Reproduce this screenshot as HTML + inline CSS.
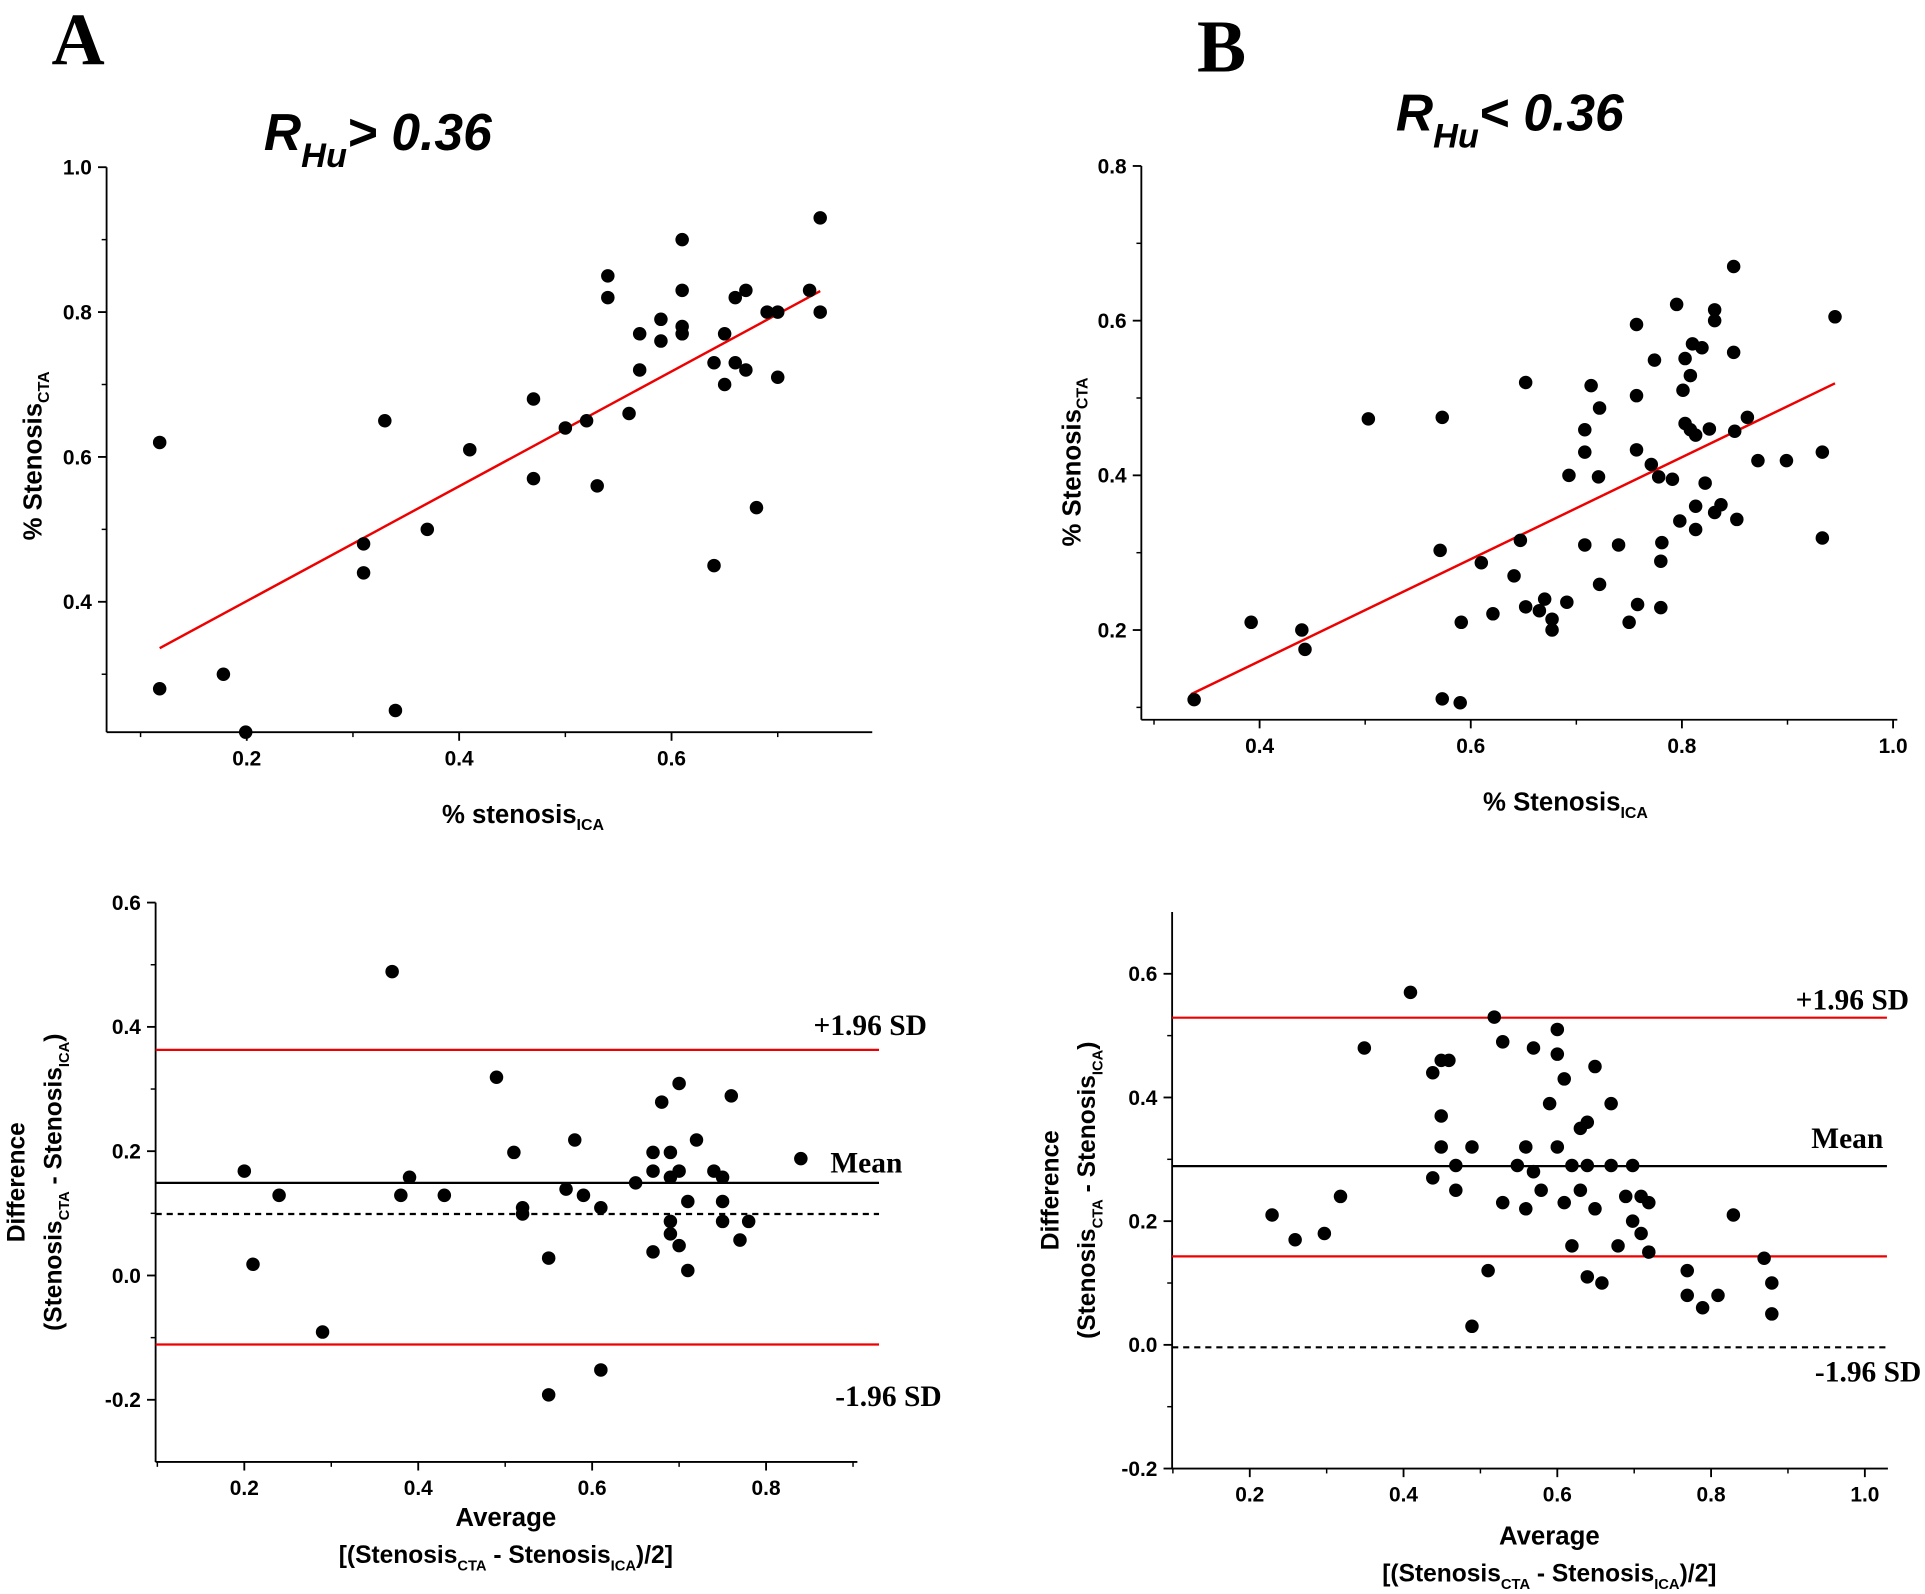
<!DOCTYPE html>
<html><head><meta charset="utf-8"><style>
html,body{margin:0;padding:0;background:#fff;}
svg{display:block;}
text{font-family:"Liberation Sans",sans-serif;font-weight:bold;fill:#000;}
.serif{font-family:"Liberation Serif",serif;}
</style></head><body>
<svg id="fig" width="1925" height="1594" viewBox="0 0 1568 1298" xmlns="http://www.w3.org/2000/svg">
<text class="serif" x="42" y="52" font-size="60">A</text>
<text class="serif" x="975" y="58" font-size="60">B</text>
<text x="215" y="122" font-size="42" font-style="italic">R<tspan font-size="28" dy="14">Hu</tspan><tspan dy="-14">&gt; 0.36</tspan></text>
<text x="1137" y="106" font-size="42" font-style="italic">R<tspan font-size="28" dy="14">Hu</tspan><tspan dy="-14">&lt; 0.36</tspan></text>
<g id="plots"></g>
</svg>
<script>
// Panel A top scatter
const aTopX=[0.118,0.118,0.178,0.199,0.33,0.31,0.31,0.34,0.37,0.41,0.47,0.47,0.50,0.52,0.53,0.54,0.54,0.56,0.57,0.57,0.59,0.59,0.61,0.61,0.61,0.61,0.64,0.64,0.65,0.65,0.66,0.66,0.67,0.67,0.68,0.69,0.70,0.70,0.73,0.74,0.74];
const aTopY=[0.62,0.28,0.30,0.22,0.65,0.48,0.44,0.25,0.50,0.61,0.68,0.57,0.64,0.65,0.56,0.85,0.82,0.66,0.77,0.72,0.79,0.76,0.90,0.83,0.78,0.77,0.73,0.45,0.77,0.70,0.82,0.73,0.83,0.72,0.53,0.80,0.80,0.71,0.83,0.93,0.80];
const aFitX=[0.118,0.74];
const aFitY=[0.336,0.829];
// Panel B top scatter
const bTopX=[0.338,0.392,0.44,0.443,0.503,0.573,0.571,0.573,0.590,0.591,0.61,0.621,0.641,0.647,0.652,0.652,0.665,0.670,0.677,0.677,0.691,0.693,0.708,0.708,0.708,0.714,0.721,0.722,0.722,0.74,0.75,0.757,0.757,0.757,0.758,0.771,0.774,0.778,0.78,0.78,0.781,0.791,0.795,0.798,0.801,0.803,0.803,0.808,0.808,0.81,0.813,0.813,0.813,0.819,0.822,0.826,0.831,0.831,0.831,0.837,0.849,0.849,0.85,0.852,0.862,0.872,0.899,0.933,0.933,0.945];
const bTopY=[0.11,0.21,0.20,0.175,0.473,0.475,0.303,0.111,0.106,0.21,0.287,0.221,0.27,0.316,0.52,0.23,0.225,0.24,0.214,0.2,0.236,0.40,0.31,0.459,0.43,0.516,0.398,0.487,0.259,0.31,0.21,0.595,0.503,0.433,0.233,0.414,0.549,0.398,0.289,0.229,0.313,0.395,0.621,0.341,0.51,0.551,0.467,0.459,0.529,0.57,0.452,0.36,0.33,0.565,0.39,0.46,0.614,0.6,0.352,0.362,0.67,0.559,0.457,0.343,0.475,0.419,0.419,0.319,0.43,0.605];
const bFitX=[0.335,0.945];
const bFitY=[0.117,0.519];
// Panel A Bland-Altman
const aBaX=[0.2,0.21,0.24,0.29,0.37,0.38,0.39,0.43,0.49,0.51,0.52,0.52,0.55,0.55,0.57,0.58,0.59,0.61,0.61,0.65,0.67,0.67,0.67,0.68,0.69,0.69,0.69,0.69,0.70,0.70,0.70,0.71,0.71,0.72,0.74,0.75,0.75,0.75,0.76,0.77,0.78,0.84];
const aBaY=[0.168,0.018,0.129,-0.091,0.489,0.129,0.158,0.129,0.319,0.198,0.109,0.099,0.028,-0.192,0.139,0.218,0.129,0.109,-0.152,0.149,0.198,0.168,0.038,0.279,0.198,0.158,0.087,0.067,0.309,0.168,0.048,0.119,0.008,0.218,0.168,0.158,0.119,0.087,0.289,0.057,0.087,0.188];
const aLimits=[0.363,0.149,0.099,-0.111];
// Panel B Bland-Altman
const bBaX=[0.229,0.259,0.297,0.318,0.349,0.409,0.438,0.438,0.449,0.449,0.449,0.459,0.468,0.468,0.489,0.489,0.51,0.518,0.529,0.529,0.548,0.559,0.559,0.569,0.569,0.579,0.59,0.6,0.6,0.6,0.609,0.609,0.619,0.619,0.63,0.63,0.639,0.639,0.639,0.649,0.649,0.658,0.67,0.67,0.679,0.689,0.698,0.698,0.709,0.709,0.719,0.719,0.769,0.769,0.789,0.809,0.829,0.869,0.879,0.879];
const bBaY=[0.21,0.17,0.18,0.24,0.48,0.57,0.44,0.27,0.46,0.37,0.32,0.46,0.29,0.25,0.32,0.03,0.12,0.53,0.49,0.23,0.29,0.32,0.22,0.48,0.28,0.25,0.39,0.51,0.47,0.32,0.43,0.23,0.16,0.29,0.25,0.35,0.36,0.11,0.29,0.45,0.22,0.10,0.39,0.29,0.16,0.24,0.29,0.20,0.24,0.18,0.23,0.15,0.12,0.08,0.06,0.08,0.21,0.14,0.10,0.05];
const bLimits=[0.529,0.289,0.143,-0.004];

const NS='http://www.w3.org/2000/svg';
const root=document.getElementById('plots');
function mk(tag,attrs,parent){const e=document.createElementNS(NS,tag);for(const k in attrs)e.setAttribute(k,attrs[k]);(parent||root).appendChild(e);return e;}
function lin(d0,d1,p0,p1){return v=>p0+(v-d0)*(p1-p0)/(d1-d0);}

function axes(g,sx,sy,x0,x1,y0,y1,xt,yt,xd,yd,minorX,minorY){
  const l1=mk('line',{x1:sx(x0),y1:sy(y0),x2:sx(x1),y2:sy(y0),stroke:'#000','stroke-width':1.5},g);
  
  
  const l2=mk('line',{x1:sx(x0),y1:sy(y0),x2:sx(x0),y2:sy(y1),stroke:'#000','stroke-width':1.5},g);
  
  
  minorX.forEach(v=>{mk('line',{x1:sx(v),x2:sx(v),y1:sy(y0),y2:sy(y0)+4,stroke:'#000','stroke-width':1.2},g);});
  minorY.forEach(v=>{mk('line',{x1:sx(x0),x2:sx(x0)-4,y1:sy(v),y2:sy(v),stroke:'#000','stroke-width':1.2},g);});
  xt.forEach(v=>{mk('line',{x1:sx(v),x2:sx(v),y1:sy(y0),y2:sy(y0)+7,stroke:'#000','stroke-width':1.5},g);
    const t=mk('text',{x:sx(v),y:sy(y0)+27,'text-anchor':'middle','font-size':17},g);t.textContent=v.toFixed(xd);
    
    });
  yt.forEach(v=>{mk('line',{x1:sx(x0),x2:sx(x0)-7,y1:sy(v),y2:sy(v),stroke:'#000','stroke-width':1.5},g);
    const t=mk('text',{x:sx(x0)-12,y:sy(v)+6,'text-anchor':'end','font-size':17},g);t.textContent=v.toFixed(yd);
    
    });
}
function dots(g,sx,sy,X,Y){X.forEach((x,i)=>{const c=mk('circle',{cx:sx(x),cy:sy(Y[i]),r:5.5,fill:'#000'},g);
  
  });}
function range(a,b,s){const r=[];for(let v=a;v<=b+1e-9;v+=s)r.push(+v.toFixed(3));return r;}

// ---- A top
(function(){
  const g=mk('g',{});
  
  
  const sx=lin(0.2,0.6,201,547), sy=lin(0.8,0.4,254,490);
  axes(g,sx,sy,0.068,0.789,0.22,1.0,[0.2,0.4,0.6],[0.4,0.6,0.8,1.0],1,1,range(0.1,0.7,0.2),range(0.3,0.9,0.2));
  const f=mk('line',{x1:sx(aFitX[0]),y1:sy(aFitY[0]),x2:sx(aFitX[1]),y2:sy(aFitY[1]),stroke:'#e00','stroke-width':2},g);
  
  
  dots(g,sx,sy,aTopX,aTopY);
  const xl=mk('text',{x:360,y:670,'font-size':21},g);xl.innerHTML='% stenosis<tspan font-size="13" dy="6">ICA</tspan>';
  
  
  const yl=mk('text',{transform:'translate(34,440) rotate(-90)','font-size':21},g);yl.innerHTML='% Stenosis<tspan font-size="13" dy="6">CTA</tspan>';
  
  
})();
// ---- B top
(function(){
  const g=mk('g',{});
  
  
  const sx=lin(0.4,1.0,1026,1542), sy=lin(0.8,0.2,135,513);
  axes(g,sx,sy,0.288,1.004,0.084,0.8,[0.4,0.6,0.8,1.0],[0.2,0.4,0.6,0.8],1,1,range(0.3,0.9,0.2),range(0.1,0.7,0.2));
  const f=mk('line',{x1:sx(bFitX[0]),y1:sy(bFitY[0]),x2:sx(bFitX[1]),y2:sy(bFitY[1]),stroke:'#e00','stroke-width':2},g);
  
  
  dots(g,sx,sy,bTopX,bTopY);
  const xl=mk('text',{x:1208,y:660,'font-size':21},g);xl.innerHTML='% Stenosis<tspan font-size="13" dy="6">ICA</tspan>';
  
  
  const yl=mk('text',{transform:'translate(880,445) rotate(-90)','font-size':21},g);yl.innerHTML='% Stenosis<tspan font-size="13" dy="6">CTA</tspan>';
  
  
})();
function ba(name,sx,sy,x0,x1,y0,y1,xt,yt,X,Y,lim,styles,xEnd,labels,xlx,ylx,xly){
  const g=mk('g',{});
  
  
  axes(g,sx,sy,x0,x1,y0,y1,xt,yt,1,1,range(0.1,0.9,0.2).filter(v=>v>x0&&v<x1),range(-0.3,0.7,0.2).filter(v=>v>y0&&v<y1));
  lim.forEach((v,i)=>{const l=mk('line',{x1:sx(x0),x2:xEnd,y1:sy(v),y2:sy(v),stroke:styles[i][0],'stroke-width':1.8,'stroke-dasharray':styles[i][1]},g);
    
    });
  dots(g,sx,sy,X,Y);
  labels.forEach(L=>{const t=mk('text',{x:L[1],y:L[2],'font-size':24,'text-anchor':'end',class:'serif'},g);t.textContent=L[0];
    
    });
  const a=mk('text',{x:xlx,y:xly,'font-size':21,'text-anchor':'middle'},g);a.textContent='Average';
  
  
  const b=mk('text',{x:xlx,y:xly+30,'font-size':20,'text-anchor':'middle'},g);
  b.innerHTML='[(Stenosis<tspan font-size="12" dy="6">CTA</tspan><tspan dy="-6"> - Stenosis</tspan><tspan font-size="12" dy="6">ICA</tspan><tspan dy="-6">)/2]</tspan>';
  
  
  const c=mk('text',{transform:`translate(${ylx},${(sy(y0)+sy(y1))/2}) rotate(-90)`,'font-size':20,'text-anchor':'middle'},g);c.textContent='Difference';
  
  
  const d=mk('text',{transform:`translate(${ylx+30},${(sy(y0)+sy(y1))/2}) rotate(-90)`,'font-size':20,'text-anchor':'middle'},g);
  d.innerHTML='(Stenosis<tspan font-size="12" dy="6">CTA</tspan><tspan dy="-6"> - Stenosis</tspan><tspan font-size="12" dy="6">ICA</tspan><tspan dy="-6">)</tspan>';
  
  
}
ba('bland-altman-a',lin(0.2,0.8,199,624),lin(0.6,-0.2,735,1140),0.098,0.905,-0.30,0.6,[0.2,0.4,0.6,0.8],[-0.2,0,0.2,0.4,0.6],aBaX,aBaY,aLimits,
  [['#e00','','upper-limit-line'],['#000','','mean-line'],['#000','5,4','zero-line'],['#e00','','lower-limit-line']],716,
  [['+1.96 SD',755,843],['Mean',735,955],['-1.96 SD',767,1145]],412,20,1243);
ba('bland-altman-b',lin(0.2,1.0,1018,1519),lin(0.6,-0.2,793,1196),0.099,1.03,-0.2,0.70,[0.2,0.4,0.6,0.8,1.0],[-0.2,0,0.2,0.4,0.6],bBaX,bBaY,bLimits,
  [['#e00','','upper-limit-line'],['#000','','mean-line'],['#e00','','lower-limit-line'],['#000','5,4','zero-line']],1537,
  [['+1.96 SD',1555,822],['Mean',1534,935],['-1.96 SD',1565,1125]],1262,862,1258);
</script>
</body></html>
